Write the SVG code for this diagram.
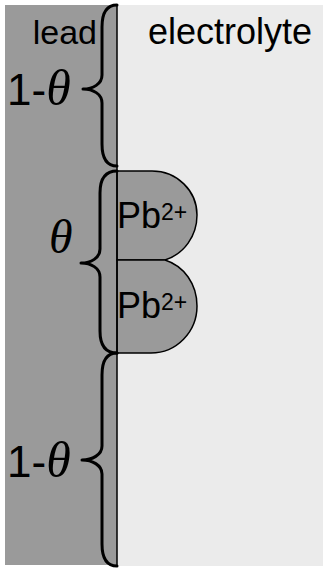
<svg xmlns="http://www.w3.org/2000/svg" width="323" height="569" viewBox="0 0 323 569">
  <style>
    .sans { font-family: "Liberation Sans", Arial, sans-serif; fill: #000; }
    .greek { font-family: "Liberation Serif", "Times New Roman", serif; font-style: italic; fill: #000; }
    .brace { fill: none; stroke: #000; stroke-width: 3; stroke-linecap: round; stroke-linejoin: round; }
    .ion { fill: #9a9a9a; stroke: #000; stroke-width: 1.5; }
  </style>

  <!-- phases -->
  <g id="lead">
    <rect x="5" y="5" width="112" height="560" fill="#9a9a9a"/>
    <text class="sans" x="97" y="44" font-size="34" text-anchor="end">lead</text>
  </g>
  <g id="electrolyte">
    <rect x="117" y="5" width="206" height="561" fill="#ebebeb"/>
    <text class="sans" x="148" y="44" font-size="36">electrolyte</text>
  </g>

  <!-- adsorbed ions -->
  <g id="ion1">
    <path class="ion" d="M117,171 H152 A45,44 0 0 1 197,215 C197,236 184,254 165,260 H117 Z"/>
    <text class="sans" x="117" y="228" font-size="36">Pb<tspan font-size="23" dy="-8">2+</tspan></text>
  </g>
  <g id="ion2">
    <path class="ion" d="M117,260 H165 C184,266 197,284 197,306 A46,47 0 0 1 151,353 H117 Z"/>
    <text class="sans" x="117" y="318" font-size="36">Pb<tspan font-size="23" dy="-8">2+</tspan></text>
  </g>

  <!-- interface -->
  <g id="interface">
    <line x1="117" y1="5" x2="117" y2="566" stroke="#000" stroke-width="1.5"/>
  </g>

  <!-- coverage braces -->
  <g id="braces">
    <path class="brace" d="M117,5 C108,5 102,11 102,27 L102,75 C102,84 93,89 83,89 C93,89 102,94 102,103 L102,144 C102,160 108,166 117,166"/>
    <path class="brace" d="M117,171 C107,171 100,177 100,193 L100,249 C100,258 91,263 81,263 C91,263 100,268 100,277 L100,331 C100,347 107,353 117,353"/>
    <path class="brace" d="M117,353 C108,353 102,359 102,375 L102,446 C102,455 92,460 82,460 C92,460 102,465 102,474 L102,544 C102,560 108,566 117,566"/>
  </g>

  <g id="label-top">
    <text class="sans" x="7" y="105" font-size="44">1-<tspan class="greek" font-size="50">θ</tspan></text>
  </g>
  <g id="label-mid">
    <text class="greek" x="49" y="253" font-size="48">θ</text>
  </g>
  <g id="label-bottom">
    <text class="sans" x="7" y="477" font-size="44">1-<tspan class="greek" font-size="50">θ</tspan></text>
  </g>
</svg>
